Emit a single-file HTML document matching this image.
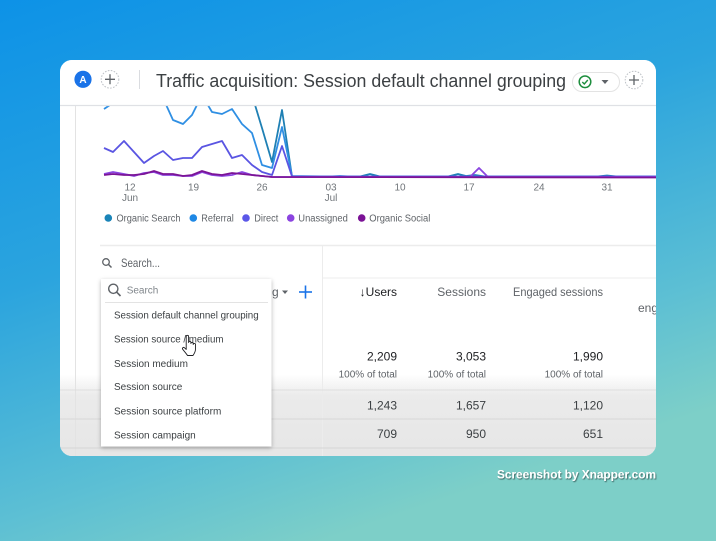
<!DOCTYPE html>
<html><head><meta charset="utf-8"><style>
html,body{margin:0;padding:0;width:716px;height:541px;overflow:hidden}
svg{display:block}
text{font-family:"Liberation Sans",sans-serif}
</style></head><body>
<svg width="716" height="541" viewBox="0 0 716 541" xmlns="http://www.w3.org/2000/svg">
<defs>
<linearGradient id="bg" x1="0" y1="0" x2="0.45" y2="1">
<stop offset="0" stop-color="#0d92e7"/>
<stop offset="0.45" stop-color="#2ba4de"/>
<stop offset="0.8" stop-color="#5cbfd4"/>
<stop offset="1" stop-color="#7dcfc8"/>
</linearGradient>
<linearGradient id="fade" x1="0" y1="0" x2="0" y2="1">
<stop offset="0" stop-color="#ebebeb" stop-opacity="0"/>
<stop offset="0.25" stop-color="#ebebeb" stop-opacity="1"/>
<stop offset="1" stop-color="#e6e6e6" stop-opacity="1"/>
</linearGradient>
<clipPath id="card"><rect x="60" y="60" width="596" height="396" rx="12"/></clipPath>
<clipPath id="chart"><rect x="100" y="106" width="556" height="90"/></clipPath>
<filter id="sh" x="-10%" y="-10%" width="120%" height="120%"><feDropShadow dx="0" dy="1.5" stdDeviation="2" flood-color="#000" flood-opacity="0.3"/></filter>
<filter id="tsh"><feDropShadow dx="0.8" dy="1" stdDeviation="0.6" flood-color="#000" flood-opacity="0.55"/></filter>
</defs>
<rect width="716" height="541" fill="url(#bg)"/>
<g clip-path="url(#card)">
<rect x="60" y="60" width="596" height="396" fill="#fff"/>
<!-- lower gray overlay -->
<rect x="60" y="375" width="596" height="81" fill="url(#fade)"/>
<!-- left strip line -->
<line x1="75.5" y1="105" x2="75.5" y2="456" stroke="#e3e3e3" stroke-width="1"/>
<!-- chart -->
<g clip-path="url(#chart)" fill="none" stroke-width="1.8" stroke-linejoin="round">
<polyline stroke="#1f80b4" points="104,70 113,66 124,60 134,58 144,62 154,64 163,70 173,80 183,78 192,72 202,68 212,75 222,78 232,74 242,82 252,95 262,128 272,162 282,110 292,176.5 360,176.5 370,174 380,176.5 448,176.5 458,174 466,176 475,175 485,176.5 597,176.5 607,175.5 617,176.5 656,176.5"/>
<polyline stroke="#2f8fe3" points="104,109 113,103 124,92 134,80 144,85 154,90 163,98 173,120 183,124 192,115 202,95 212,112 222,114 232,109 242,124 252,133 262,165 272,168 282,127 292,176 330,176.5 340,176 350,176.5 656,176.5"/>
<polyline stroke="#5a55e2" points="104,148 113,152 124,141 134,152 144,163 154,156 163,151 173,160 183,158 192,158 202,147 212,144 222,141 232,158 242,155 252,165 262,172 272,175 282,146 292,176.5 656,176.5"/>
<polyline stroke="#8b45e0" points="104,174 113,172 124,174 134,176 144,173 154,172 163,175 173,175 183,176 192,176 202,172 212,175 222,176 232,175 242,172 252,175 262,176 272,177 282,177 470,177 479,168 488,177 656,177"/>
<polyline stroke="#7b1496" points="104,175 113,174 124,175 134,175 144,174 154,171 163,174 173,174 183,176 192,175 202,171 212,174 222,175 232,173 242,174 252,175 262,176 272,177 656,177.5"/>
</g>
<!-- x axis labels -->
<g font-size="10" fill="#70757a" text-anchor="middle">
<text x="130" y="190.5">12</text><text x="130" y="201">Jun</text>
<text x="193.5" y="190.5">19</text>
<text x="262" y="190.5">26</text>
<text x="331" y="190.5">03</text><text x="331" y="201">Jul</text>
<text x="400" y="190.5">10</text>
<text x="469" y="190.5">17</text>
<text x="539" y="190.5">24</text>
<text x="607" y="190.5">31</text>
</g>
<!-- legend -->
<g font-size="10" fill="#5f6368">
<circle cx="108.3" cy="218" r="3.8" fill="#1a84b8"/><text x="116.5" y="221.5" textLength="64" lengthAdjust="spacingAndGlyphs">Organic Search</text>
<circle cx="193.3" cy="218" r="3.8" fill="#1e88e5"/><text x="201.3" y="221.5" textLength="32.5" lengthAdjust="spacingAndGlyphs">Referral</text>
<circle cx="246" cy="218" r="3.8" fill="#5b57e8"/><text x="254.3" y="221.5" textLength="24" lengthAdjust="spacingAndGlyphs">Direct</text>
<circle cx="290.7" cy="218" r="3.8" fill="#8b44e0"/><text x="298.3" y="221.5" textLength="49.5" lengthAdjust="spacingAndGlyphs">Unassigned</text>
<circle cx="361.7" cy="218" r="3.8" fill="#7b1296"/><text x="369.3" y="221.5" textLength="61" lengthAdjust="spacingAndGlyphs">Organic Social</text>
</g>
<!-- table structure -->
<line x1="100" y1="245.5" x2="656" y2="245.5" stroke="#ececec" stroke-width="1.5"/>
<line x1="322.5" y1="246" x2="322.5" y2="456" stroke="#ececec"/>
<line x1="322" y1="278" x2="656" y2="278" stroke="#ececec"/>
<line x1="60" y1="390" x2="656" y2="390" stroke="#dedede"/>
<line x1="60" y1="419" x2="656" y2="419" stroke="#d8d8d8"/>
<line x1="60" y1="448" x2="656" y2="448" stroke="#d6d6d6"/>
<!-- search -->
<circle cx="106" cy="262" r="3.3" fill="none" stroke="#5f6368" stroke-width="1.3"/>
<line x1="108.4" y1="264.4" x2="111.5" y2="267.5" stroke="#5f6368" stroke-width="1.5"/>
<text x="121" y="267" font-size="12" fill="#5f6368" textLength="39" lengthAdjust="spacingAndGlyphs">Search...</text>
<!-- behind dropdown -->
<text x="272" y="296" font-size="12" fill="#5f6368">g</text>
<path d="M282,290.5 L288,290.5 L285,294 Z" fill="#5f6368"/>
<line x1="299" y1="292" x2="312" y2="292" stroke="#1a73e8" stroke-width="1.6"/>
<line x1="305.5" y1="285.5" x2="305.5" y2="298.5" stroke="#1a73e8" stroke-width="1.6"/>
<!-- column headers -->
<g font-size="12" text-anchor="end">
<text x="397" y="296" fill="#202124">↓Users</text>
<text x="486" y="296" fill="#5f6368">Sessions</text>
<text x="603" y="296" fill="#5f6368" textLength="90" lengthAdjust="spacingAndGlyphs">Engaged sessions</text>
<text x="656" y="312" fill="#5f6368" text-anchor="start" dx="-18">eng</text>
</g>
<g text-anchor="end">
<text x="397" y="360.5" font-size="12" fill="#202124">2,209</text>
<text x="486" y="360.5" font-size="12" fill="#202124">3,053</text>
<text x="603" y="360.5" font-size="12" fill="#202124">1,990</text>
<text x="397" y="377.5" font-size="10" fill="#5f6368">100% of total</text>
<text x="486" y="377.5" font-size="10" fill="#5f6368">100% of total</text>
<text x="603" y="377.5" font-size="10" fill="#5f6368">100% of total</text>
<text x="397" y="409.5" font-size="12" fill="#3c4043">1,243</text>
<text x="486" y="409.5" font-size="12" fill="#3c4043">1,657</text>
<text x="603" y="409.5" font-size="12" fill="#3c4043">1,120</text>
<text x="397" y="438" font-size="12" fill="#3c4043">709</text>
<text x="486" y="438" font-size="12" fill="#3c4043">950</text>
<text x="603" y="438" font-size="12" fill="#3c4043">651</text>
</g>
<!-- header -->
<rect x="60" y="60" width="596" height="45" fill="#fff"/>
<line x1="60" y1="105.5" x2="656" y2="105.5" stroke="#dfe1e5" stroke-width="1.2"/>
<circle cx="83" cy="79.3" r="8.6" fill="#1a73e8"/>
<text x="83" y="83" font-size="10" font-weight="bold" fill="#fff" text-anchor="middle">A</text>
<circle cx="110" cy="79.3" r="8.8" fill="none" stroke="#bdc1c6" stroke-width="1" stroke-dasharray="1.6 1.4"/>
<line x1="105" y1="79.3" x2="115" y2="79.3" stroke="#5f6368" stroke-width="1.3"/>
<line x1="110" y1="74.3" x2="110" y2="84.3" stroke="#5f6368" stroke-width="1.3"/>
<line x1="139.5" y1="70" x2="139.5" y2="89" stroke="#dadce0" stroke-width="1"/>
<text x="156" y="87" font-size="18.5" fill="#3c4043" textLength="410" lengthAdjust="spacingAndGlyphs">Traffic acquisition: Session default channel grouping</text>
<rect x="572.5" y="72.5" width="47" height="19" rx="9.5" fill="#fff" stroke="#e3e3e3"/>
<circle cx="585" cy="81.8" r="5.8" fill="none" stroke="#1e8e3e" stroke-width="1.5"/>
<path d="M582.3,82 L584.3,84 L587.8,80" fill="none" stroke="#1e8e3e" stroke-width="1.4"/>
<path d="M601.5,80 L608.5,80 L605,84 Z" fill="#5f6368"/>
<circle cx="634" cy="80" r="8.8" fill="none" stroke="#bdc1c6" stroke-width="1" stroke-dasharray="1.6 1.4"/>
<line x1="629" y1="80" x2="639" y2="80" stroke="#5f6368" stroke-width="1.3"/>
<line x1="634" y1="75" x2="634" y2="85" stroke="#5f6368" stroke-width="1.3"/>
<!-- dropdown -->
<rect x="101" y="279" width="170.5" height="167.5" fill="#fff" filter="url(#sh)"/>
<circle cx="113.3" cy="288.8" r="4.6" fill="none" stroke="#5f6368" stroke-width="1.4"/>
<line x1="116.6" y1="292.1" x2="120.5" y2="296" stroke="#5f6368" stroke-width="1.6"/>
<text x="126.7" y="293.5" font-size="10" fill="#80868b">Search</text>
<line x1="105" y1="302.5" x2="268" y2="302.5" stroke="#e3e3e3"/>
<g font-size="10" fill="#3c4043">
<text x="114" y="318.5" textLength="144.7" lengthAdjust="spacingAndGlyphs">Session default channel grouping</text>
<text x="114" y="342.5" textLength="109.5" lengthAdjust="spacingAndGlyphs">Session source / medium</text>
<text x="114" y="366.8">Session medium</text>
<text x="114" y="390.2">Session source</text>
<text x="114" y="414.5">Session source platform</text>
<text x="114" y="438.5">Session campaign</text>
</g>
<!-- cursor hand -->
<path d="M186.2,336.5 c0,-1.6 2.4,-1.6 2.4,0 l0,6 c0,-1.4 2.3,-1.4 2.3,0 l0,1 c0,-1.4 2.3,-1.4 2.3,0 l0,1 c0,-1.4 2.3,-1.4 2.3,0 l0,4.5 c0,3 -1.5,5 -2.5,6.5 l-5.5,0 c-1,-1.6 -3.5,-4.5 -4.8,-6.2 c-0.9,-1.2 0.7,-2.6 1.8,-1.5 l1.7,1.6 Z" fill="#fff" stroke="#202124" stroke-width="0.9" stroke-linejoin="round"/>
</g>
<text x="656" y="478.5" font-size="12" font-weight="bold" fill="#fff" text-anchor="end" textLength="159" lengthAdjust="spacingAndGlyphs" filter="url(#tsh)">Screenshot by Xnapper.com</text>
</svg>
</body></html>
